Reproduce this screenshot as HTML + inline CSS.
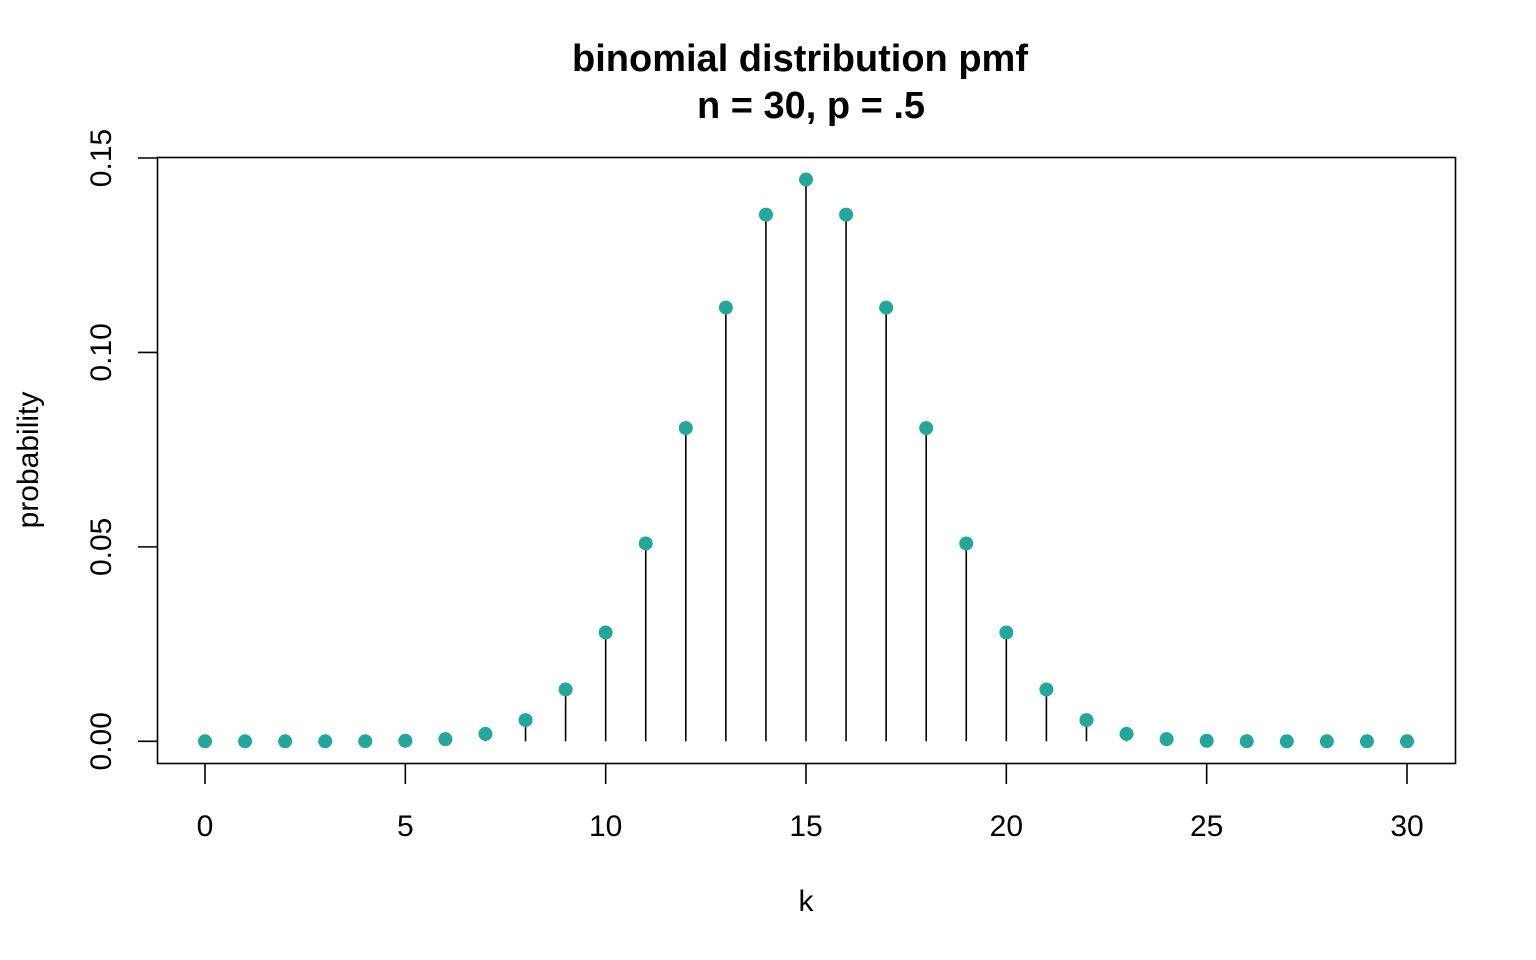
<!DOCTYPE html>
<html><head><meta charset="utf-8"><style>
html,body{margin:0;padding:0;background:#fff;}
svg{display:block;font-family:"Liberation Sans",Arial,sans-serif;}
</style></head><body>
<svg id="chart" width="1536" height="960" viewBox="0 0 1536 960" xmlns="http://www.w3.org/2000/svg">
<rect width="1536" height="960" fill="#fff"/>
<text x="800" y="71" text-anchor="middle" font-size="38" font-weight="bold">binomial distribution pmf</text>
<text x="811" y="118" text-anchor="middle" font-size="38" font-weight="bold">n = 30, p = .5</text>
<rect x="157.5" y="157.5" width="1298" height="606" fill="none" stroke="#000" stroke-width="1.6"/>
<g id="stems"></g>
<g id="points"></g>
<g id="xaxis"></g>
<g id="yaxis"></g>
<text x="806" y="911" text-anchor="middle" font-size="30">k</text>
<text transform="translate(38,460) rotate(-90)" text-anchor="middle" font-size="30">probability</text>
</svg>
<script>
const categories = [0,1,2,3,4,5,6,7,8,9,10,11,12,13,14,15,16,17,18,19,20,21,22,23,24,25,26,27,28,29,30];
const probabilities = [0.000000001,0.00000003,0.0000004,0.0000038,0.0000255,0.000133,0.000553,0.001896,0.005451,0.013325,0.02798,0.05088,0.08055,0.11153,0.13544,0.14446,0.13544,0.11153,0.08055,0.05088,0.02798,0.013325,0.005451,0.001896,0.000553,0.000133,0.0000255,0.0000038,0.0000004,0.00000003,0.000000001];
const xTicks = [0,5,10,15,20,25,30];
const yTicks = [0.00,0.05,0.10,0.15];
const yTickLabels = ["0.00","0.05","0.10","0.15"];

const NS = "http://www.w3.org/2000/svg";
function xs(v){ return 205 + (v - 0) * (1407 - 205) / 30; }
function ys(v){ return 741.3 - v * (741.3 - 158) / 0.15; }
function mk(tag, attrs, parent){
  const e = document.createElementNS(NS, tag);
  for (const k in attrs) e.setAttribute(k, attrs[k]);
  parent.appendChild(e);
  return e;
}
const stems = document.getElementById('stems');
const points = document.getElementById('points');
const xaxis = document.getElementById('xaxis');
const yaxis = document.getElementById('yaxis');

categories.forEach((k, i) => {
  const p = probabilities[i];
  const l = mk('line', {x1: xs(k), x2: xs(k), y1: ys(0), y2: ys(p), stroke: '#000', 'stroke-width': 1.6}, stems);
  
  
  const c = mk('circle', {cx: xs(k), cy: ys(p), r: 7, fill: '#22a79a'}, points);
  
  
});

xTicks.forEach(t => {
  const l = mk('line', {x1: xs(t), x2: xs(t), y1: 764, y2: 784, stroke: '#000', 'stroke-width': 1.6}, xaxis);
  
  
  const tx = mk('text', {x: xs(t), y: 836, 'text-anchor': 'middle', 'font-size': 30}, xaxis);
  tx.textContent = t;
  
  
});
yTicks.forEach((t, i) => {
  const l = mk('line', {x1: 138, x2: 157, y1: ys(t), y2: ys(t), stroke: '#000', 'stroke-width': 1.6}, yaxis);
  
  
  const tx = mk('text', {transform: 'translate(111,' + ys(t) + ') rotate(-90)', 'text-anchor': 'middle', 'font-size': 30}, yaxis);
  tx.textContent = yTickLabels[i];
  
  
});
</script>
</body></html>
